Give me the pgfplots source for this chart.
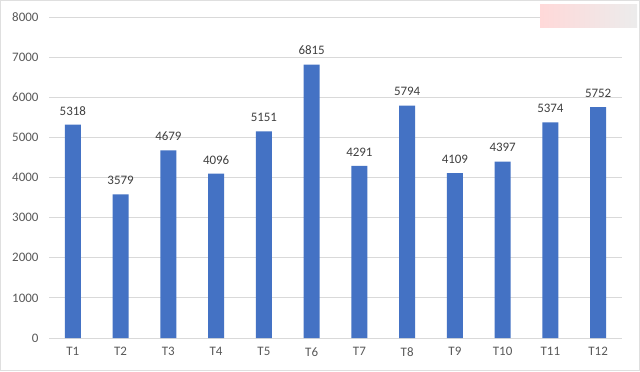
\documentclass[border=0pt]{standalone}
\usepackage{pgfplots}
\pgfplotsset{compat=1.18}
\usepackage{fontspec}
\setmainfont{Carlito}
\definecolor{barblue}{HTML}{4472C4}
\definecolor{gridgray}{HTML}{D9D9D9}
\definecolor{ticktxt}{HTML}{595959}
\definecolor{lbltxt}{HTML}{404040}
\begin{document}
\begin{tikzpicture}[x=1bp,y=1bp]
\useasboundingbox (0,0) rectangle (640,371);
\fill[white] (0,0) rectangle (640,371);
\begin{axis}[
  at={(49bp,33bp)}, anchor=south west,
  scale only axis, width=573bp, height=321bp,
  xmin=-0.5, xmax=11.5, ymin=0, ymax=8000,
  ytick={0,1000,...,8000},
  xtick={0,...,11},
  xticklabels={T1,T2,T3,T4,T5,T6,T7,T8,T9,T10,T11,T12},
  axis line style={draw=none},
  major tick length=0pt,
  ymajorgrids, grid style={gridgray, line width=0.9bp},
  tick label style={font=\fontsize{13}{15}\selectfont, text=ticktxt},
  /pgf/number format/assume math mode=true,
  /pgf/number format/1000 sep={},
  yticklabel style={xshift=-7bp},
  xticklabel style={yshift=-6bp},
  ybar, bar width=16bp,
  nodes near coords,
  every node near coord/.append style={font=\fontsize{13}{15}\selectfont, text=lbltxt, yshift=6bp, /pgf/number format/1000 sep={}},
  clip=false,
]
\addplot[fill=barblue, draw=none] coordinates {
(0,5318) (1,3579) (2,4679) (3,4096) (4,5151) (5,6815)
(6,4291) (7,5794) (8,4109) (9,4397) (10,5374) (11,5752)};
\end{axis}
\shade[left color=red!15, right color=gray!15, draw=none] (540,343) rectangle (637,366);
\draw[gray!25, line width=0.8bp] (0.4,0.4) rectangle (639.6,370.6);
\end{tikzpicture}
\end{document}
